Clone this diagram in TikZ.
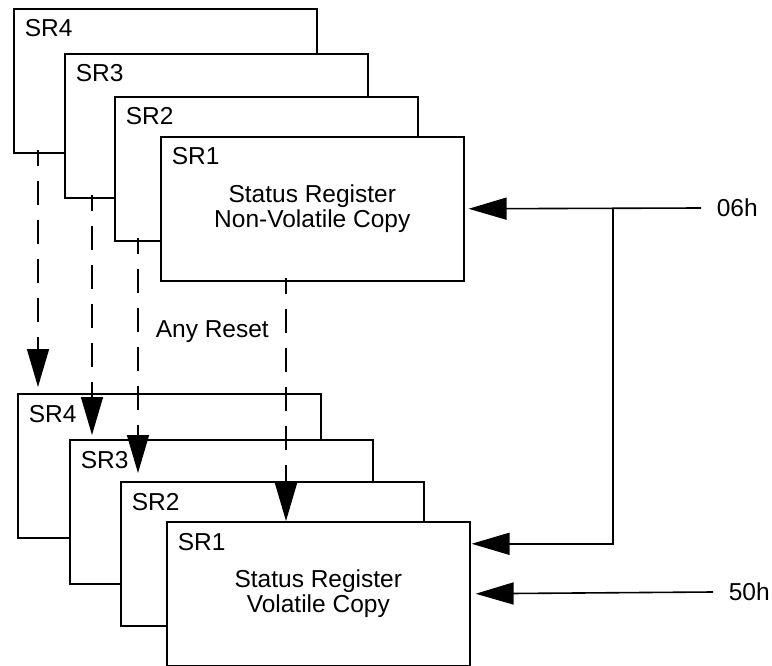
\documentclass[tikz,border=0pt]{standalone}
\usepackage{fontspec}
\setmainfont{Liberation Sans}
\usetikzlibrary{arrows.meta,calc}

\begin{document}
\begin{tikzpicture}
      [x=1pt,y=-1pt,line width=1.6pt,
       every node/.style={font=\fontsize{24.5}{25}\selectfont},
       reg/.style={draw,fill=white,anchor=north west,inner sep=0pt,
         minimum width=303pt,minimum height=144pt,align=center,
         label={[anchor=base west,inner sep=0pt,xshift=11pt,yshift=-29pt]north west:#1}},
       reset/.style={dash pattern=on 24pt off 15pt,dash phase=8pt,
         -{Triangle[length=38pt,width=22pt]}},
       feed/.style={-{Triangle[length=38pt,width=22pt]}}]
      \useasboundingbox (0,0) rectangle (772,666);

      \node [reg=SR4] (nv4) at (13,8) {};
      \node [reg=SR3] (nv3) at (64,53) {};
      \node [reg=SR2] (nv2) at (114,96) {};
      \node [reg=SR1] (nv1) at (160,136) {Status Register\\Non-Volatile Copy};

      \node [reg=SR4] (v4) at (17,393) {};
      \node [reg=SR3] (v3) at (69,439) {};
      \node [reg=SR2] (v2) at (120,481) {};
      \node [reg=SR1] (v1) at (166,521) {Status Register\\Volatile Copy};

      \node (any) [anchor=base west,inner sep=0pt] at (155,337) {Any Reset};
      \node (h06) [anchor=west,inner sep=0pt] at (716,208) {06h};
      \node (h50) [anchor=west,inner sep=0pt] at (728,592) {50h};
      \coordinate (fork) at (613,208);

      \foreach \from/\to/\dx/\ex/\up in {nv4/v4/25/21/6, nv3/v3/28/23/4, nv2/v2/24/18/8, nv1/v1/126/120/0}
      \draw [reset] ($(\from.south west)+(\dx,-4)$) -- ($(\to.north west)+(\ex,-\up)$);

      \draw [feed,shorten >=4pt] ([xshift=-15pt]h06.west) -- (nv1.east);
      \draw [feed,shorten >=1pt] (fork) |- ([yshift=50pt]v1.east);
      \draw [feed,shorten >=5pt] ([xshift=-15pt]h50.west) -- (v1.east);
    \end{tikzpicture}
\end{document}
